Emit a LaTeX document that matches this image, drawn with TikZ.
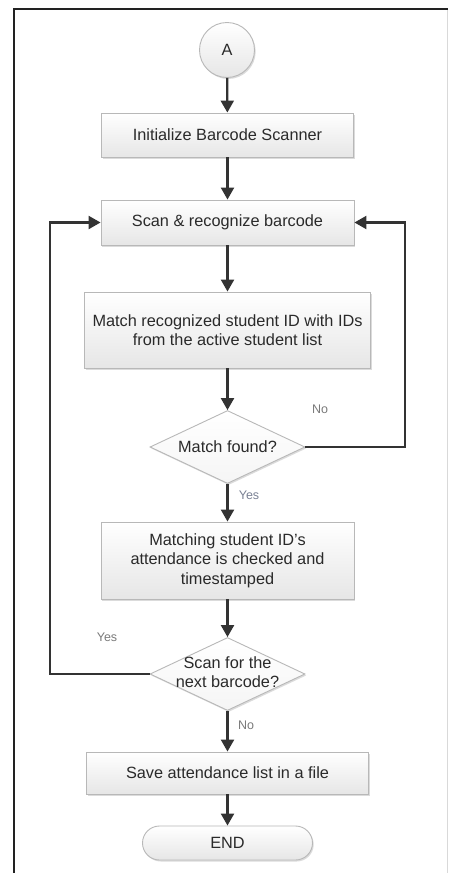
\documentclass[tikz,border=0pt]{standalone}
\usepackage{fontspec}
\setmainfont{Liberation Sans}
\usetikzlibrary{shapes.geometric,arrows.meta,shadows}
\definecolor{boxline}{HTML}{B8B8B8}
\definecolor{boxbot}{HTML}{E6E6E6}
\definecolor{txt}{HTML}{2A2A2A}
\definecolor{arrc}{HTML}{333333}
\definecolor{lbl}{HTML}{7A7A7A}
\definecolor{lblb}{HTML}{7A8194}
\definecolor{frame}{HTML}{222222}
\begin{document}
\begin{tikzpicture}[x=1pt,y=-1pt,
  font=\fontsize{16.3}{19.5}\selectfont,
  shade/.style={top color=white, bottom color=boxbot, draw=boxline, line width=0.9pt,
    drop shadow={shadow xshift=1.2pt, shadow yshift=-1.5pt, fill=black!35, opacity=0.4}},
  proc/.style={shade, rectangle, text=txt, align=center, inner sep=0pt},
  decision/.style={shade, diamond, bottom color=black!4, text=txt, align=center, inner sep=0pt,
    minimum width=155pt, minimum height=73pt},
  conn/.style={shade, circle, text=txt, inner sep=0pt, minimum size=55pt},
  term/.style={shade, rectangle, rounded corners=17pt, text=txt, inner sep=0pt,
    minimum width=170pt, minimum height=34pt},
  arr/.style={draw=arrc, line width=2.3pt, -{Triangle[width=13pt,length=12pt]}},
  lab/.style={text=lbl, font=\fontsize{12.5}{14}\selectfont, inner sep=0pt}]
\useasboundingbox (0,0) rectangle (449,873);
\fill[white] (0,0) rectangle (449,873);
% frame
\draw[frame, line width=2.8pt] (14,873) -- (14,9) -- (448,9);
\draw[black!15, line width=1pt] (447,10) -- (447,873);

\node[conn] (A) at (227,50) {A};
\node[proc, minimum width=252pt, minimum height=44pt] (init) at (227.5,135) {Initialize Barcode Scanner};
\node[proc, minimum width=253pt, minimum height=45pt] (scan) at (227.5,222.5) {Scan \& recognize barcode};
\node[proc, minimum width=286pt, minimum height=76pt] (match) at (227.5,330) {Match recognized student ID with IDs\\from the active student list};
\node[decision] (d1) at (227.5,447) {\makebox[0pt]{Match found?}};
\node[proc, minimum width=253pt, minimum height=77pt] (check) at (227.5,560.5) {Matching student ID's\\attendance is checked and\\timestamped};
\node[decision] (d2) at (227.5,674) {\makebox[0pt]{\begin{tabular}{@{}c@{}}Scan for the\\next barcode?\end{tabular}}};
\node[proc, minimum width=282pt, minimum height=42pt] (save) at (227.5,773) {Save attendance list in a file};
\node[term] (end) at (227.5,843) {END};

\coordinate (nr) at (405,222.5);
\coordinate (yl) at (50,222.5);

\draw[arr] (A) -- (init);
\draw[arr] (init) -- (scan);
\draw[arr] (scan) -- (match);
\draw[arr] (match) -- (d1);
\draw[arr] (d1) -- (check);
\draw[arr] (check) -- (d2);
\draw[arr] (d2) -- (save);
\draw[arr] (save) -- (end);
\draw[arr] (d1.east) -| (nr) -- (scan.east);
\draw[arr] (d2.west) -| (yl) -- (scan.west);

\node[lab] (no1) at (320,409) {No};
\node[lab, text=lblb] (yes1) at (249,495) {Yes};
\node[lab] (yes2) at (107,637) {Yes};
\node[lab] (no2) at (246,725) {No};
\end{tikzpicture}
\end{document}
